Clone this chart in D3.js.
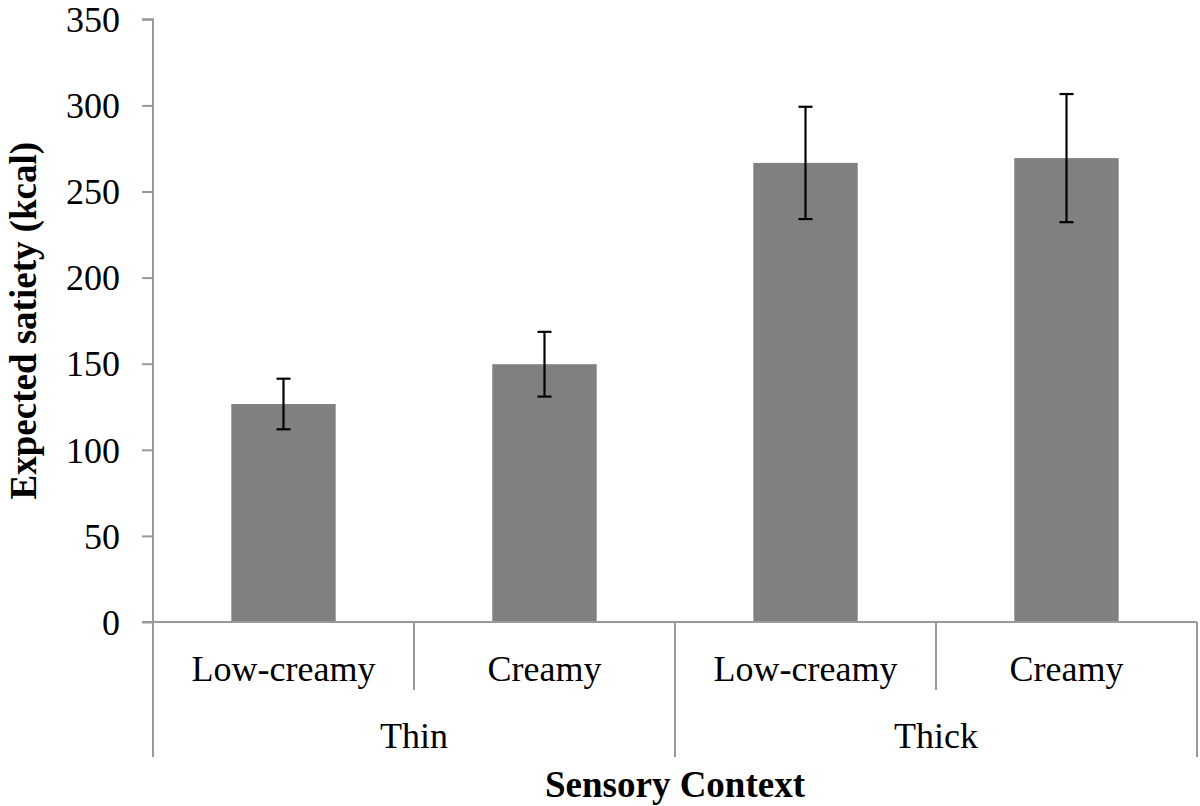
<!DOCTYPE html>
<html>
<head>
<meta charset="utf-8">
<script src="https://cdn.jsdelivr.net/npm/d3@7"></script>
<style>
  html, body { margin: 0; padding: 0; background: #fff; }
  svg text { font-family: "Liberation Serif", "Times New Roman", serif; fill: #000; }
</style>
</head>
<body>
<svg id="chart" width="1200" height="806"></svg>
<script>
const groups = ["Thin", "Thick"];
const categories = ["Low-creamy", "Creamy", "Low-creamy", "Creamy"];
const categoryGroup = ["Thin", "Thin", "Thick", "Thick"];
const means = [126.6, 149.7, 266.6, 269.4];
const errors = [14.7, 18.8, 32.6, 37.2];
const yTicks = [0, 50, 100, 150, 200, 250, 300, 350];

const svg = d3.select("#chart");
const mLeft = 153, mRight = 1197, mTop = 19.3, mBottom = 622;
const axisColor = "#999999";

const keys = categories.map((c, i) => i);
const x = d3.scaleBand().domain(keys).range([mLeft, mRight]).paddingInner(0.6).paddingOuter(0.3);
const y = d3.scaleLinear().domain([0, 350]).range([mBottom, mTop]);

// bars
svg.append("g").selectAll("rect").data(keys).join("rect")
  .attr("x", i => x(i)).attr("width", x.bandwidth())
  .attr("y", i => y(means[i])).attr("height", i => y(0) - y(means[i]))
  .attr("fill", "#808080");

// error bars
const eg = svg.append("g").attr("stroke", "#000").attr("stroke-width", 2.2);
keys.forEach(i => {
  const cx = x(i) + x.bandwidth() / 2;
  eg.append("line").attr("x1", cx).attr("x2", cx).attr("y1", y(means[i] + errors[i])).attr("y2", y(means[i] - errors[i]));
  eg.append("line").attr("x1", cx - 7).attr("x2", cx + 7).attr("y1", y(means[i] + errors[i])).attr("y2", y(means[i] + errors[i]));
  eg.append("line").attr("x1", cx - 7).attr("x2", cx + 7).attr("y1", y(means[i] - errors[i])).attr("y2", y(means[i] - errors[i]));
});

// y axis
const yAxis = d3.axisLeft(y).tickValues(yTicks).tickSize(11).tickPadding(22);
const ya = svg.append("g").attr("transform", `translate(${mLeft},0)`).call(yAxis);
ya.select(".domain").attr("stroke", axisColor).attr("stroke-width", 2).attr("d", `M-11,${mTop}H0V${mBottom}`);
ya.selectAll(".tick line").attr("stroke", axisColor).attr("stroke-width", 2);
ya.selectAll(".tick text").attr("font-size", 36).attr("font-family", "Liberation Serif").attr("fill", "#000").attr("dy", "0.34em");

// x axis baseline
svg.append("line").attr("x1", mLeft - 11).attr("x2", mRight).attr("y1", y(0)).attr("y2", y(0))
  .attr("stroke", axisColor).attr("stroke-width", 2);

// category separator lines
const step = x.step();
const lg = svg.append("g").attr("stroke", axisColor).attr("stroke-width", 2);
const boundaries = d3.range(categories.length + 1).map(k => mLeft + k * step);
boundaries.forEach((bx, k) => {
  const full = (k === 0 || k === categories.length || categoryGroup[k] !== categoryGroup[k - 1]);
  lg.append("line").attr("x1", bx).attr("x2", bx).attr("y1", y(0)).attr("y2", full ? 757 : 690);
});

// category labels
svg.append("g").selectAll("text").data(keys).join("text")
  .attr("x", i => x(i) + x.bandwidth() / 2).attr("y", 681)
  .attr("text-anchor", "middle").attr("font-size", 36)
  .text(i => categories[i]);

// group labels
groups.forEach(g => {
  const idx = keys.filter(i => categoryGroup[i] === g);
  const x0 = x(idx[0]) - x.step() * x.paddingInner() / 2;
  const x1 = x(idx[idx.length - 1]) + x.bandwidth() + x.step() * x.paddingInner() / 2;
  svg.append("text").attr("x", (x0 + x1) / 2).attr("y", 748)
    .attr("text-anchor", "middle").attr("font-size", 36).text(g);
});

// axis titles
svg.append("text").attr("x", (mLeft + mRight) / 2).attr("y", 797)
  .attr("text-anchor", "middle").attr("font-size", 37).attr("font-weight", "bold")
  .text("Sensory Context");
svg.append("text").attr("transform", `translate(36,${(mTop + mBottom) / 2}) rotate(-90)`)
  .attr("text-anchor", "middle").attr("font-size", 37).attr("font-weight", "bold")
  .text("Expected satiety (kcal)");
</script>
</body>
</html>
